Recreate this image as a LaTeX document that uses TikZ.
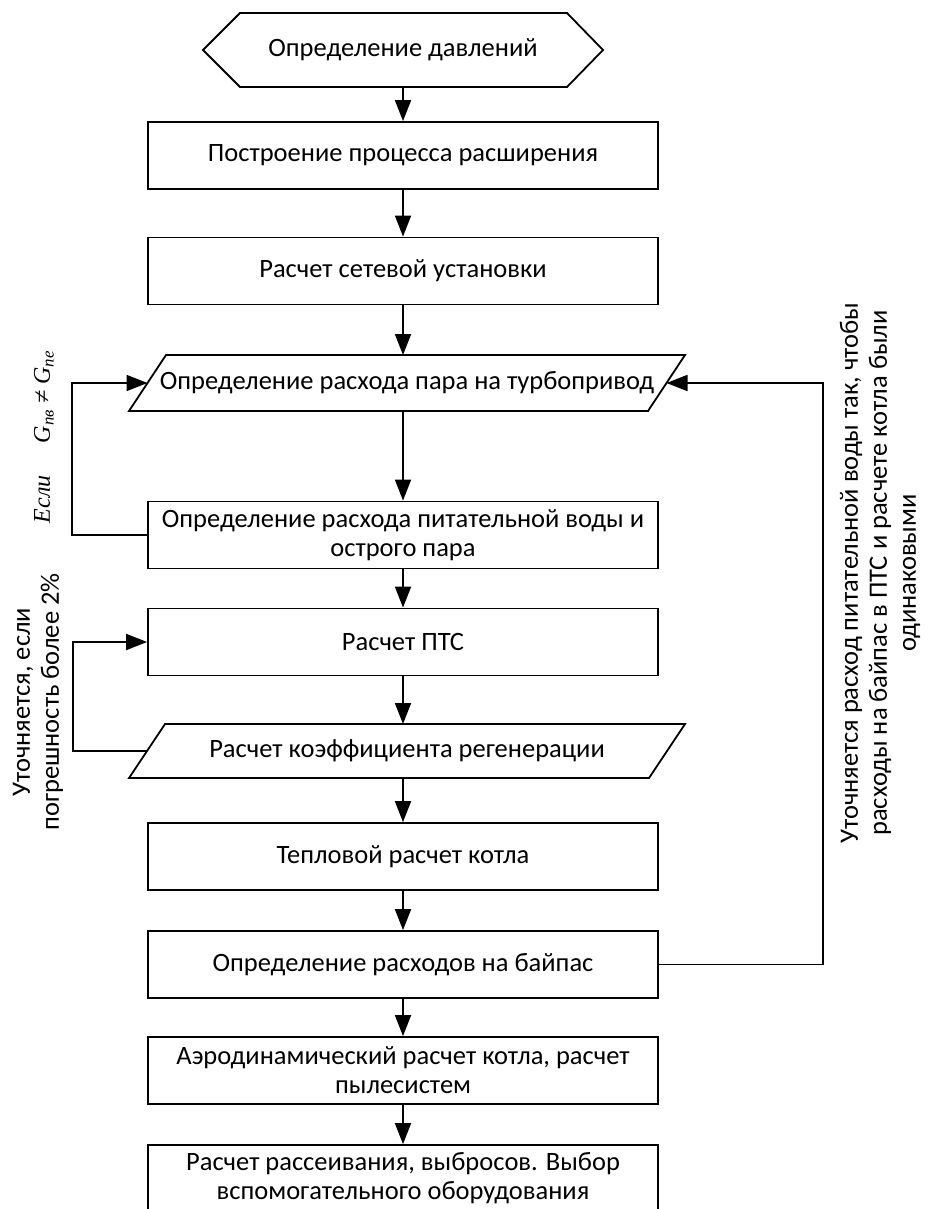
\documentclass[tikz,border=0pt]{standalone}
\usepackage{fontspec}
\setmainfont{Carlito}
\newfontfamily\serfont{Liberation Serif}
\usetikzlibrary{arrows.meta}
\begin{document}
\begin{tikzpicture}[x=1pt,y=-1pt, line width=1.8pt,
  box/.style={draw, rectangle, minimum width=510pt, minimum height=67pt, inner sep=0pt, align=center, font=\fontsize{26.5}{29}\selectfont},
  txt/.style={inner sep=0pt, align=center, font=\fontsize{26.5}{29}\selectfont},
  arr/.style={-{Triangle[length=21pt,width=16pt]}}]
\useasboundingbox (0,0) rectangle (927,1209);
% hexagon
\node[txt] (h) at (403,50) {Определение давлений};
\draw (203,50) -- (240,13) -- (567,13) -- (603,50) -- (567,87) -- (240,87) -- cycle;
\coordinate (hb) at (403,87);
\node[box] (b1) at (403,155.5) {Построение процесса расширения};
\node[box] (b2) at (403,271) {Расчет сетевой установки};
% parallelogram 1
\node[txt] (p1) at (407,383) {Определение расхода пара на турбопривод};
\draw (129,411) -- (166,355) -- (685,355) -- (648,411) -- cycle;
\coordinate (p1w) at (147.5,383);
\coordinate (p1e) at (666.5,383);
\coordinate (p1n) at (403,355);
\coordinate (p1s) at (403,411);
\node[box] (b3) at (403,535) {Определение расхода питательной воды и\\острого пара};
\node[box] (b4) at (403,642) {Расчет ПТС};
% parallelogram 2
\node[txt] (p2) at (407,751) {Расчет коэффициента регенерации};
\draw (129,778) -- (165,724) -- (685,724) -- (649,778) -- cycle;
\coordinate (p2w) at (147,751);
\coordinate (p2n) at (403,724);
\coordinate (p2s) at (403,778);
\node[box] (b5) at (403,856.5) {Тепловой расчет котла};
\node[box] (b6) at (403,964.5) {Определение расходов на байпас};
\node[box] (b7) at (403,1070.5) {Аэродинамический расчет котла, расчет\\пылесистем};
\node[box] (b8) at (403,1178.5) {Расчет рассеивания, выбросов. Выбор\\вспомогательного оборудования};
% main arrows
\draw[arr] (hb) -- (b1);
\draw[arr] (b1) -- (b2);
\draw[arr] (b2) -- (p1n);
\draw[arr] (p1s) -- (b3);
\draw[arr] (b3) -- (b4);
\draw[arr] (b4) -- (p2n);
\draw[arr] (p2s) -- (b5);
\draw[arr] (b5) -- (b6);
\draw[arr] (b6) -- (b7);
\draw[arr] (b7) -- (b8);
% feedback loops
\draw[arr] (b3.west) -- ++(-75,0) |- (p1w);
\draw[arr] (p2w) -- ++(-74,0) |- (b4.west);
\draw[arr] (b6.east) -- ++(164,0) |- (p1e);
% labels
\node[rotate=90, inner sep=0pt, font=\serfont\itshape\fontsize{24}{28}\selectfont] (l1) at (44,437) {Если\hspace{32pt}G\textsubscript{пв} ≠ G\textsubscript{пе}};
\node[rotate=90, txt] (l2) at (38,702) {Уточняется, если\\погрешность более 2\%};
\node[rotate=90, txt] (l3) at (880,573) {Уточняется расход питательной воды так, чтобы\\расходы на байпас в ПТС и расчете котла были\\одинаковыми};
\end{tikzpicture}
\end{document}
